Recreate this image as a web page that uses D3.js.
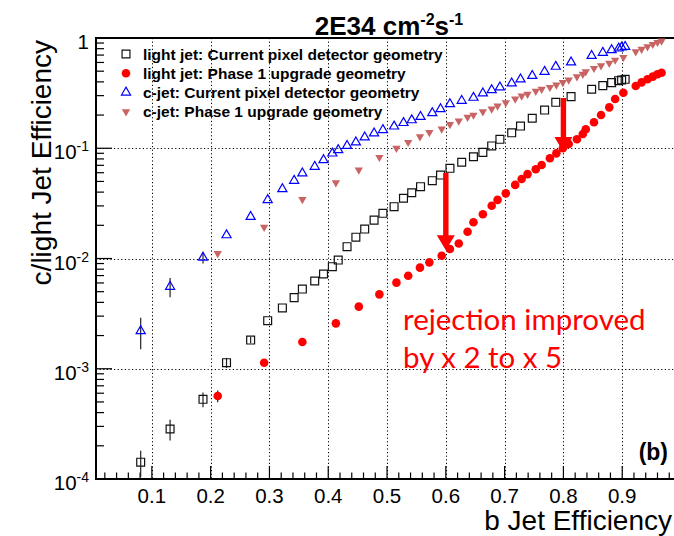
<!DOCTYPE html>
<html><head><meta charset="utf-8">
<script src="https://cdn.jsdelivr.net/npm/d3@7"></script>
<style>body{margin:0;background:#fff}svg{display:block}</style>
</head><body>
<svg id="c" width="674" height="536"></svg>
<script>
// ---- data ----
const bCurrent = [0.081,0.131,0.187,0.227,0.268,0.297,0.322,0.342,0.356,0.377,0.392,0.407,0.417,0.432,0.447,0.462,0.478,0.493,0.512,0.528,0.542,0.557,0.577,0.591,0.607,0.627,0.647,0.663,0.678,0.692,0.712,0.727,0.747,0.768,0.787,0.813,0.848,0.867,0.882,0.894,0.899,0.905];
const lightCurrent = [1.42e-4,2.84e-4,5.28e-4,1.135e-3,1.82e-3,2.73e-3,3.56e-3,4.42e-3,5.28e-3,6.25e-3,7.23e-3,8.43e-3,9.68e-3,1.28e-2,1.56e-2,1.85e-2,2.23e-2,2.57e-2,2.95e-2,3.52e-2,3.95e-2,4.48e-2,5.08e-2,5.71e-2,6.58e-2,7.46e-2,8.37e-2,9.18e-2,0.105,0.1205,0.138,0.159,0.187,0.222,0.261,0.294,0.343,0.370,0.394,0.410,0.416,0.422];
const lightCurrentErr = [3.8e-5,6e-5,8e-5,1.2e-4,1.2e-4];
const cCurrent = [2.20e-3,5.55e-3,1.02e-2,1.63e-2,2.39e-2,3.40e-2,4.27e-2,5.08e-2,5.93e-2,6.81e-2,7.82e-2,8.99e-2,9.64e-2,0.1054,0.1132,0.1256,0.1368,0.1466,0.158,0.170,0.180,0.193,0.209,0.227,0.252,0.270,0.288,0.315,0.337,0.357,0.388,0.422,0.455,0.495,0.550,0.603,0.690,0.736,0.778,0.805,0.822,0.834];
const cCurrentErr = [0.7e-3,1.1e-3,1.2e-3];
const bPhase1 = [0.212,0.291,0.356,0.413,0.452,0.487,0.516,0.536,0.556,0.572,0.593,0.607,0.622,0.637,0.647,0.663,0.678,0.688,0.702,0.718,0.729,0.739,0.753,0.763,0.777,0.788,0.799,0.809,0.823,0.833,0.838,0.852,0.864,0.878,0.888,0.902,0.923,0.933,0.943,0.952,0.960,0.967];
const lightPhase1 = [5.66e-4,1.135e-3,1.75e-3,2.58e-3,3.66e-3,4.73e-3,6.04e-3,6.98e-3,8.26e-3,9.23e-3,1.06e-2,1.22e-2,1.37e-2,1.75e-2,2.13e-2,2.52e-2,3.01e-2,3.40e-2,3.90e-2,4.65e-2,5.26e-2,5.83e-2,6.44e-2,7.05e-2,8.11e-2,8.99e-2,0.100,0.1094,0.1205,0.1346,0.1486,0.172,0.200,0.235,0.280,0.319,0.367,0.396,0.422,0.446,0.469,0.484];
const lightPhase1Err = [7e-5,8e-5];
const cPhase1 = [1.11e-2,1.92e-2,3.44e-2,4.88e-2,6.35e-2,8.28e-2,0.100,0.1132,0.1274,0.1393,0.1496,0.1648,0.1766,0.191,0.200,0.215,0.227,0.242,0.259,0.280,0.298,0.310,0.330,0.344,0.357,0.375,0.396,0.416,0.446,0.469,0.495,0.531,0.561,0.590,0.631,0.668,0.752,0.791,0.834,0.877,0.914,0.940];

const seriesNames = ["light jet: Current pixel detector geometry","light jet: Phase 1 upgrade geometry","c-jet: Current pixel detector geometry","c-jet: Phase 1 upgrade geometry"];
const xTicks = [0.1,0.2,0.3,0.4,0.5,0.6,0.7,0.8,0.9];
const xTickLabels = ["0.1","0.2","0.3","0.4","0.5","0.6","0.7","0.8","0.9"];
const yTicks = [1e-4,1e-3,1e-2,1e-1,1];
const yTickExp = ["-4","-3","-2","-1",""];
const arrowsData = [{b:0.6, from:0.0596, to:0.0119},{b:0.8, from:0.286, to:0.0925}];
const annotationLines = ["rejection improved","by x 2 to x 5"];
const titleParts = ["2E34 cm","-2","s","-1"];

// ---- layout ----
const L=96, R=681, T=38, B=479;
const svg = d3.select("#c");
svg.append("rect").attr("width",674).attr("height",536).attr("fill","#fff");
const x = d3.scaleLinear().domain([0.005,1.0]).range([L,R]);
const y = d3.scaleLog().domain([1e-4,1]).range([B,T]);

// grid
const grid = svg.append("g").attr("stroke","#000").attr("stroke-width",1).attr("stroke-dasharray","1.2,2.4").attr("fill","none");
grid.selectAll(".gv").data(xTicks).join("line").attr("x1",d=>Math.round(x(d))+0.5).attr("x2",d=>Math.round(x(d))+0.5).attr("y1",T).attr("y2",B);
grid.selectAll(".gh").data([1e-3,1e-2,1e-1]).join("line").attr("y1",d=>Math.round(y(d))+0.5).attr("y2",d=>Math.round(y(d))+0.5).attr("x1",L).attr("x2",R);

// axes ticks
const ax = svg.append("g").attr("stroke","#000").attr("stroke-width",1.2);
const minorX = d3.range(1,50).map(i=>i*0.02).filter(v=>Math.abs(v*10-Math.round(v*10))>1e-6);
ax.selectAll(".mx").data(minorX).join("line").attr("x1",d=>x(d)).attr("x2",d=>x(d)).attr("y1",B).attr("y2",B-6.5);
ax.selectAll(".Mx").data(xTicks).join("line").attr("x1",d=>x(d)).attr("x2",d=>x(d)).attr("y1",B).attr("y2",B-13);
const minorY = [];
[1e-4,1e-3,1e-2,1e-1].forEach(dd=>{for(let k=2;k<=9;k++) minorY.push(dd*k);});
ax.selectAll(".my").data(minorY).join("line").attr("y1",d=>y(d)).attr("y2",d=>y(d)).attr("x1",L).attr("x2",L+8);
ax.selectAll(".My").data(yTicks).join("line").attr("y1",d=>y(d)).attr("y2",d=>y(d)).attr("x1",L).attr("x2",L+16);

// frame
svg.append("path").attr("d",`M${R},${T}H${L}V${B}H${R}`).attr("fill","none").attr("stroke","#000").attr("stroke-width",2);

// tick labels
const font = "'Liberation Sans', Arial, Helvetica, sans-serif";
svg.append("g").selectAll("text").data(xTicks).join("text")
  .attr("x",d=>x(d)).attr("y",503).attr("text-anchor","middle")
  .attr("font-family",font).attr("font-size",20.5).text((d,i)=>xTickLabels[i]);
const yl = svg.append("g").selectAll("text").data(yTicks).join("text")
  .attr("x",89).attr("y",d=>y(d)+11).attr("text-anchor","end")
  .attr("font-family",font).attr("font-size",20.5);
yl.each(function(d,i){
  const t=d3.select(this);
  if(yTickExp[i]===""){ t.text("1"); return; }
  t.append("tspan").text("10");
  t.append("tspan").attr("dy",-8).attr("font-size",14).text(yTickExp[i]);
});

// axis titles
svg.append("text").attr("x",672).attr("y",530).attr("text-anchor","end")
  .attr("font-family",font).attr("font-size",28).text("b Jet Efficiency");
svg.append("text").attr("transform","translate(51,40) rotate(-90)").attr("text-anchor","end")
  .attr("font-family",font).attr("font-size",28).text("c/light Jet Efficiency");

// title
const tt = svg.append("text").attr("x",389).attr("y",35).attr("text-anchor","middle")
  .attr("font-family",font).attr("font-weight","bold").attr("font-size",26);
tt.append("tspan").text(titleParts[0]);
tt.append("tspan").attr("dy",-10).attr("font-size",16).text(titleParts[1]);
tt.append("tspan").attr("dy",10).text(titleParts[2]);
tt.append("tspan").attr("dy",-10).attr("font-size",16).text(titleParts[3]);

// series
const sq = d3.symbol().type(d3.symbolSquare).size(62);
const tri = d3.symbol().type(d3.symbolTriangle).size(36);
const tri2 = d3.symbol().type(d3.symbolTriangle).size(30);
const styles = [
  {b:bCurrent, v:lightCurrent, err:lightCurrentErr, draw:(g)=>g.append("path").attr("d",sq()).attr("fill","none").attr("stroke","#111").attr("stroke-width",1.2)},
  {b:bPhase1, v:lightPhase1, err:lightPhase1Err, draw:(g)=>g.append("circle").attr("r",4.3).attr("fill","#ff0000")},
  {b:bCurrent, v:cCurrent, err:cCurrentErr, draw:(g)=>g.append("path").attr("d",tri()).attr("fill","none").attr("stroke","#0000ff").attr("stroke-width",1.2)},
  {b:bPhase1, v:cPhase1, err:[], draw:(g)=>g.append("path").attr("d",tri2()).attr("transform","rotate(180)").attr("fill","#c86464")}
];
styles.forEach(s=>{
  const pts = s.b.map((b,i)=>({b, v:s.v[i], e:s.err[i]||0}));
  const g = svg.append("g");
  g.selectAll("line").data(pts.filter(p=>p.e>0)).join("line")
    .attr("x1",p=>x(p.b)).attr("x2",p=>x(p.b)).attr("y1",p=>y(p.v+p.e)).attr("y2",p=>y(Math.max(p.v-p.e,1e-5)))
    .attr("stroke","#222").attr("stroke-width",1.2);
  g.selectAll("g").data(pts).join("g").attr("transform",p=>`translate(${x(p.b)},${y(p.v)})`)
    .each(function(){ s.draw(d3.select(this)); });
});

// arrows
arrowsData.forEach(a=>{
  const ax0=x(a.b), y0=y(a.from), y1=y(a.to), hb=y1-15;
  svg.append("path").attr("d",`M${ax0-2.7},${y0}H${ax0+2.7}V${hb}H${ax0+9}L${ax0},${y1}L${ax0-9},${hb}H${ax0-2.7}Z`).attr("fill","#ff0000");
});

// legend
const lg = svg.append("g");
seriesNames.forEach((n,i)=>{
  const cy = 54+i*19.2;
  const g = lg.append("g").attr("transform",`translate(126,${cy})`);
  styles[i].draw(g);
  lg.append("text").attr("x",143).attr("y",cy+5.5).attr("font-family",font).attr("font-weight","bold").attr("font-size",15.5).text(n);
});

// annotation
annotationLines.forEach((t,i)=>{
  svg.append("text").attr("x",403).attr("y",330+i*38).attr("fill","#ff0000")
    .attr("font-family","Lato, 'Open Sans', sans-serif").attr("font-size",29.5).text(t);
});
svg.append("text").attr("x",668).attr("y",460).attr("text-anchor","end").attr("font-family",font)
  .attr("font-weight","bold").attr("font-size",23).text("(b)");
</script>
</body></html>
